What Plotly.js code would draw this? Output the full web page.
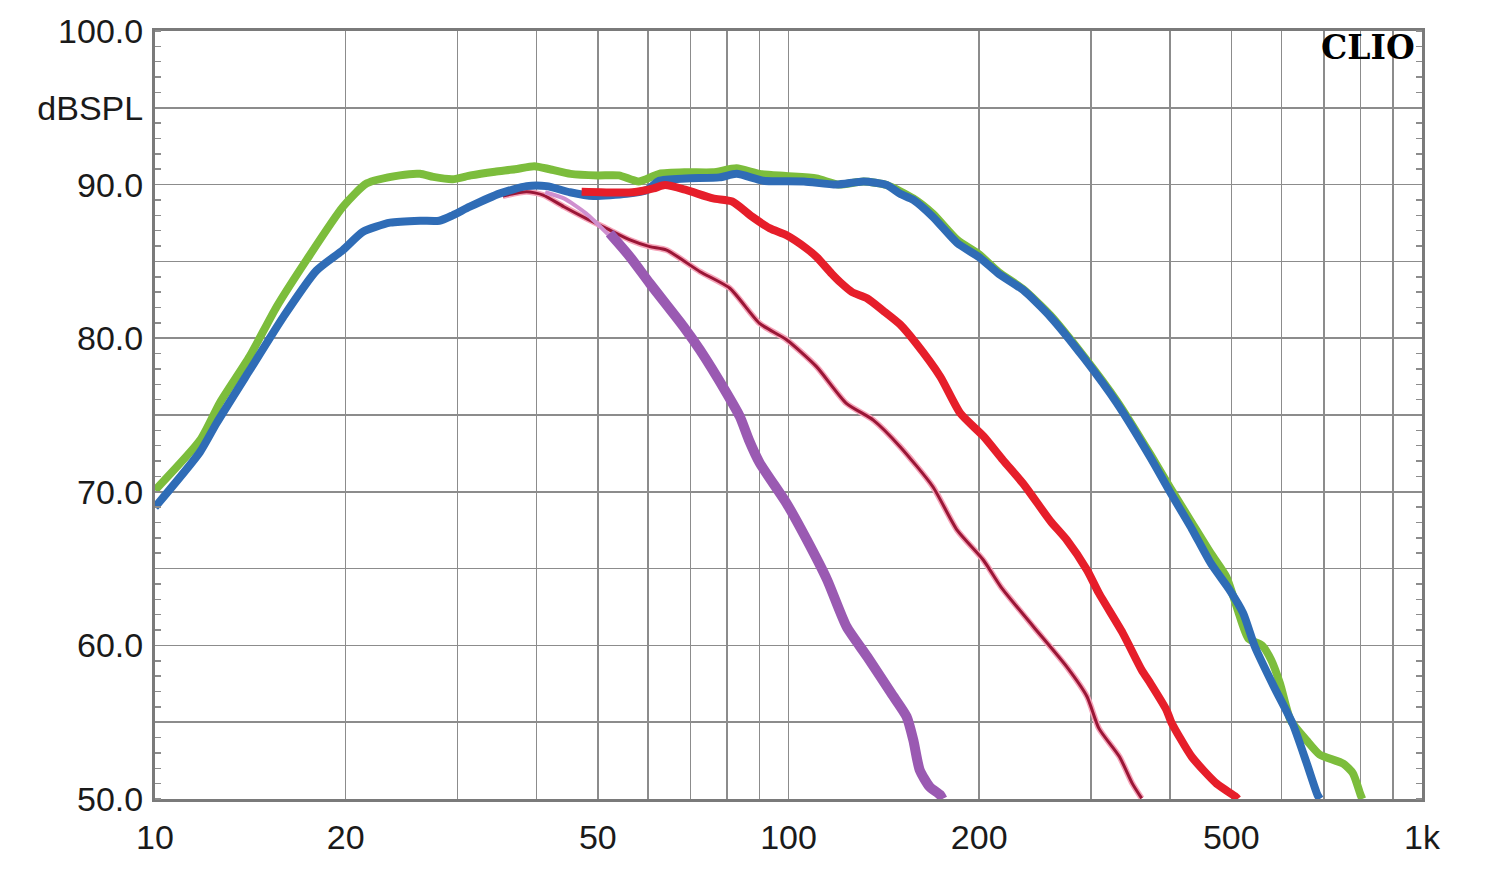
<!DOCTYPE html>
<html>
<head>
<meta charset="utf-8">
<script src="https://cdn.plot.ly/plotly-3.0.1.min.js"></script>
<style>html,body{margin:0;padding:0;background:#fff;}#chart{width:1500px;height:876px;}</style>
</head>
<body>
<div id="chart"></div>
<script>
// ---- data (frequency in Hz, level in dB SPL) ----
const greenFreq = [10, 11.8, 12.66, 14.1, 15.56, 17.35, 19.8, 21.6, 24.35, 26.2, 27.5, 29.5, 31.5, 34.4, 37, 39.7, 42, 45.3, 50, 54, 58, 62.5, 68.9, 76, 82.8, 90, 99, 110.7, 120, 131.4, 142.9, 157.4, 169, 184.6, 200, 214.6, 234.6, 259, 292.8, 330, 373, 400, 433, 464, 491, 511, 532, 559, 578, 597, 620, 658, 689, 751, 778, 800, 805];
const greenDb   = [70.1, 73.4, 75.8, 78.8, 82.05, 85.1, 88.56, 90.08, 90.6, 90.7, 90.5, 90.35, 90.6, 90.84, 91.0, 91.2, 91.0, 90.7, 90.6, 90.6, 90.2, 90.7, 90.8, 90.8, 91.06, 90.7, 90.56, 90.4, 90.0, 90.2, 89.97, 89.1, 88.1, 86.4, 85.45, 84.3, 83.2, 81.5, 78.8, 75.9, 72.4, 70.3, 68.0, 66.0, 64.47, 62.4, 60.45, 60.0, 59.05, 57.5, 55.14, 53.8, 52.9, 52.3, 51.67, 50.26, 50.0];

const blueFreq = [10, 11.78, 12.5, 14.1, 15.95, 17.98, 19.8, 21.3, 23.5, 26.2, 28.1, 29.5, 31.4, 35.06, 38.6, 41.5, 45.2, 49.2, 55.5, 59.8, 62.5, 68.9, 77.8, 82.8, 91.3, 105.8, 119, 131.4, 142.9, 150, 157.4, 169, 184.6, 200, 214.6, 234.6, 259, 292.8, 330, 373, 400, 433, 464, 497, 522, 545, 584, 625, 658, 684, 690];
const blueDb   = [69.0, 72.6, 74.45, 77.9, 81.4, 84.4, 85.74, 86.93, 87.52, 87.65, 87.65, 88.0, 88.56, 89.43, 89.9, 89.9, 89.5, 89.26, 89.4, 89.65, 90.25, 90.4, 90.47, 90.7, 90.25, 90.2, 90.0, 90.2, 89.97, 89.4, 89.0, 87.9, 86.2, 85.27, 84.2, 83.14, 81.4, 78.7, 75.76, 72.2, 70.0, 67.6, 65.35, 63.6, 62.1, 59.9, 57.3, 54.9, 52.3, 50.26, 50.0];

const redFreq = [47.15, 56.8, 61.2, 63.8, 68.9, 76, 81.5, 87.7, 93.5, 99.3, 106.7, 110.7, 117, 121, 126, 133, 141, 150, 159, 173.6, 186.8, 203.3, 218, 236, 259, 275, 296, 309, 337, 361, 373, 395, 402, 433, 474, 508, 512];
const redDb   = [89.54, 89.5, 89.75, 89.97, 89.65, 89.1, 88.9, 87.9, 87.15, 86.7, 85.85, 85.3, 84.2, 83.6, 83.0, 82.6, 81.8, 80.9, 79.67, 77.5, 75.1, 73.6, 72.07, 70.4, 68.1, 66.86, 64.9, 63.4, 60.8, 58.4, 57.5, 55.8, 55.0, 52.75, 51.0, 50.15, 50.0];

const maroonFreq = [35.4, 38.6, 41.0, 44.2, 47.9, 51.6, 56.2, 60.4, 64.2, 72.5, 80.8, 90, 99.3, 110.7, 123.4, 136.1, 150, 169, 184.6, 203, 216.5, 243.8, 275, 296, 309, 333, 349, 361];
const maroonDb   = [89.26, 89.54, 89.32, 88.56, 87.8, 87.15, 86.4, 85.96, 85.74, 84.33, 83.25, 80.97, 79.9, 78.15, 75.76, 74.67, 72.94, 70.33, 67.5, 65.56, 63.8, 61.2, 58.6, 56.66, 54.6, 52.75, 51.0, 50.04];

const lilacFreq = [41.3, 44.2, 47.9, 52.1];
const lilacDb   = [89.5, 89.1, 88.13, 86.7];

const purpleFreq = [52.2, 56.2, 60.4, 68.3, 72.5, 79.9, 83.8, 86.6, 90, 99.3, 106.8, 115.1, 123.5, 133.1, 145.3, 153.6, 157.4, 161.1, 167, 173.6, 175];
const purpleDb   = [86.83, 85.3, 83.57, 80.75, 79.23, 76.41, 74.89, 73.37, 71.9, 69.25, 66.9, 64.26, 61.22, 59.27, 56.88, 55.36, 53.84, 51.89, 50.8, 50.26, 50.0];

// ---- axis ticks ----
const xGridVals = [10,20,30,40,50,60,70,80,90,100,200,300,400,500,600,700,800,900,1000];
const xGridText = ['10','20','','','50','','','','','100','200','','','500','','','','','1k'];
const yGridVals = [50,55,60,65,70,75,80,85,90,95,100];
const yGridText = ['50.0','','60.0','','70.0','','80.0','','90.0','dBSPL','100.0'];

function line(x, y, color, width) {
  return {x: x, y: y, type: 'scatter', mode: 'lines', line: {color: color, width: width, shape: 'spline', smoothing: 0.6}, hoverinfo: 'skip', showlegend: false};
}

const traces = [
  line(greenFreq, greenDb, '#7cbd3c', 8),
  line(maroonFreq, maroonDb, '#f5a3b8', 6),
  line(maroonFreq, maroonDb, '#9a1636', 3),
  line(lilacFreq, lilacDb, '#cf8fcf', 4),
  line(purpleFreq, purpleDb, '#9a5ab2', 10),
  line(blueFreq, blueDb, '#2f6cb6', 8),
  line(redFreq, redDb, '#e61e2a', 8)
];

const tickFont = {family: 'Liberation Sans, Arial, sans-serif', size: 34, color: '#1a1a1a'};

const layout = {
  width: 1500, height: 876,
  margin: {l: 155, r: 78, t: 31, b: 77, pad: 0},
  paper_bgcolor: '#ffffff', plot_bgcolor: '#ffffff',
  showlegend: false,
  xaxis: {
    type: 'log', range: [1, 3],
    tickmode: 'array', tickvals: xGridVals, ticktext: xGridText,
    ticks: '', tickfont: tickFont, ticklabelstandoff: 6,
    showgrid: true, gridcolor: '#8c8c8c', gridwidth: 1.5,
    showline: true, linecolor: '#7a7a7a', linewidth: 3, mirror: true,
    zeroline: false
  },
  yaxis: {
    range: [50, 100],
    tickmode: 'array', tickvals: yGridVals, ticktext: yGridText,
    ticks: '', tickfont: tickFont, ticklabelstandoff: 2,
    showgrid: true, gridcolor: '#8c8c8c', gridwidth: 1.5,
    showline: true, linecolor: '#7a7a7a', linewidth: 3, mirror: 'allticks',
    zeroline: false,
    minor: {tickmode: 'linear', tick0: 50, dtick: 1, ticks: 'inside', ticklen: 6, tickwidth: 1.5, tickcolor: '#8c8c8c', showgrid: false}
  },
  annotations: [{
    xref: 'paper', yref: 'paper', x: 0.996, y: 0.978, xanchor: 'right', yanchor: 'middle',
    text: '<b>CLIO</b>', showarrow: false,
    font: {family: 'DejaVu Serif, Liberation Serif, serif', size: 33, color: '#000'}
  }]
};

Plotly.newPlot('chart', traces, layout, {staticPlot: true, displayModeBar: false});
</script>
</body>
</html>
